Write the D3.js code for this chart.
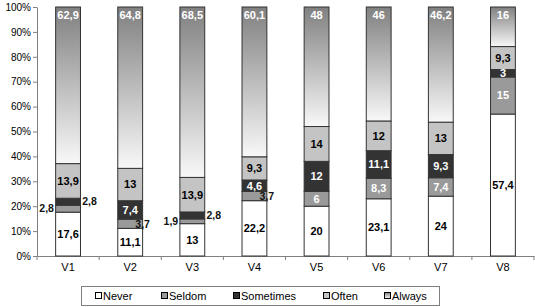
<!DOCTYPE html>
<html><head><meta charset="utf-8">
<script src="https://cdn.jsdelivr.net/npm/d3@7"></script>
<style>body{margin:0;background:#fff}svg{font-family:Arial,"Liberation Sans",sans-serif}</style>
</head><body><svg id="c" width="535" height="307"></svg>
<script>
const categories = ["V1","V2","V3","V4","V5","V6","V7","V8"];
const seriesNames = ["Never","Seldom","Sometimes","Often","Always"];
const never     = [17.6, 11.1, 13, 22.2, 20, 23.1, 24, 57.4];
const seldom    = [2.8, 3.7, 1.9, 3.7, 6, 8.3, 7.4, 15];
const sometimes = [2.8, 7.4, 2.8, 4.6, 12, 11.1, 9.3, 3];
const often     = [13.9, 13, 13.9, 9.3, 14, 12, 13, 9.3];
const always    = [62.9, 64.8, 68.5, 60.1, 48, 46, 46.2, 16];
const yTicks = [0,0.1,0.2,0.3,0.4,0.5,0.6,0.7,0.8,0.9,1];

const seriesVals = [never, seldom, sometimes, often, always];
const rows = categories.map((c,i)=>{const r={cat:c}; seriesNames.forEach((s,k)=>r[s]=seriesVals[k][i]); return r;});
const stack = d3.stack().keys(seriesNames).offset(d3.stackOffsetExpand)(rows);

const svg = d3.select("#c");
const x = d3.scaleBand().domain(categories).range([37,534]).paddingInner(0.6).paddingOuter(0.3);
const xb = d3.scaleBand().domain(categories).range([37,534]);
const y = d3.scaleLinear().domain([0,1]).range([256,7]);

const fills = {Never:"#ffffff", Seldom:"#9a9a9a", Sometimes:"#333333", Often:"#c4c4c4"};
const textCol = {Never:"#000", Seldom:"#fff", Sometimes:"#fff", Often:"#000", Always:"#fff"};

const defs = svg.append("defs");
const g = defs.append("linearGradient").attr("id","gAlways").attr("x1",0).attr("y1",0).attr("x2",0).attr("y2",1);
g.append("stop").attr("offset","0%").attr("stop-color","#808080");
g.append("stop").attr("offset","100%").attr("stop-color","#f8f8f8");

// axes
const ya = svg.append("g").attr("transform","translate(37,0)")
  .call(d3.axisLeft(y).tickValues(yTicks).tickFormat(d3.format(".0%")).tickSize(4).tickSizeOuter(0));
ya.select(".domain").attr("stroke","#808080");
ya.selectAll(".tick line").attr("stroke","#808080");
ya.selectAll("text").attr("font-size",10).attr("fill","#000").attr("x",-6);

const xa = svg.append("g").attr("transform","translate(0,256)")
  .call(d3.axisBottom(xb).tickSize(0).tickSizeOuter(0));
xa.select(".domain").attr("stroke","#808080");
xa.selectAll("text").attr("font-size",11).attr("fill","#000").attr("dy","1.1em");
svg.append("g").selectAll("line").data(categories.concat(["end"])).join("line")
  .attr("x1",(d,i)=>37+i*xb.bandwidth()).attr("x2",(d,i)=>37+i*xb.bandwidth())
  .attr("y1",256).attr("y2",260).attr("stroke","#808080");

// bars
stack.forEach(layer=>{
  const key = layer.key;
  svg.append("g").selectAll("rect").data(layer).join("rect")
    .attr("x",d=>x(d.data.cat)).attr("width",x.bandwidth())
    .attr("y",d=>y(d[1])).attr("height",d=>y(d[0])-y(d[1]))
    .attr("fill",key==="Always"?"url(#gAlways)":fills[key])
    .attr("stroke","#333").attr("stroke-width",1);
});

// labels
const fmt = v => String(v).replace(".",",");
const outside = {"V1|Seldom":"left","V1|Sometimes":"right","V2|Seldom":"edge","V3|Seldom":"left","V3|Sometimes":"right","V4|Seldom":"edge"};
stack.forEach((layer,k)=>{
  const key = layer.key;
  layer.forEach((d,i)=>{
    const v = seriesVals[k][i];
    const c = d.data.cat;
    const cx = x(c)+x.bandwidth()/2;
    let tx=cx, ty=(y(d[0])+y(d[1]))/2, col=textCol[key];
    if(key==="Always"){ ty = y(d[1])+8; }
    const o = outside[c+"|"+key];
    if(o){
      col="#111";
      if(o==="left") tx = x(c)-9;
      else if(o==="right") tx = x(c)+x.bandwidth()+9;
      else tx = x(c)+x.bandwidth();
    }
    svg.append("text").attr("x",tx).attr("y",ty).attr("dy","0.36em")
      .attr("text-anchor","middle").attr("font-size",o?10.5:11).attr("font-weight","bold")
      .attr("fill",col).text(fmt(v));
  });
});

// legend
const lg = svg.append("g");
lg.append("rect").attr("x",81.5).attr("y",286.5).attr("width",358).attr("height",19)
  .attr("fill","#fff").attr("stroke","#808080");
const legX = [95,161,233,323,384];
seriesNames.forEach((s,i)=>{
  lg.append("rect").attr("x",legX[i]+0.5).attr("y",292.5).attr("width",6).attr("height",6)
    .attr("fill",s==="Always"?"url(#gAlways)":fills[s]).attr("stroke","#000");
  lg.append("text").attr("x",legX[i]+8).attr("y",296).attr("dy","0.36em")
    .attr("font-size",11).attr("fill","#000").text(s);
});
</script></body></html>
